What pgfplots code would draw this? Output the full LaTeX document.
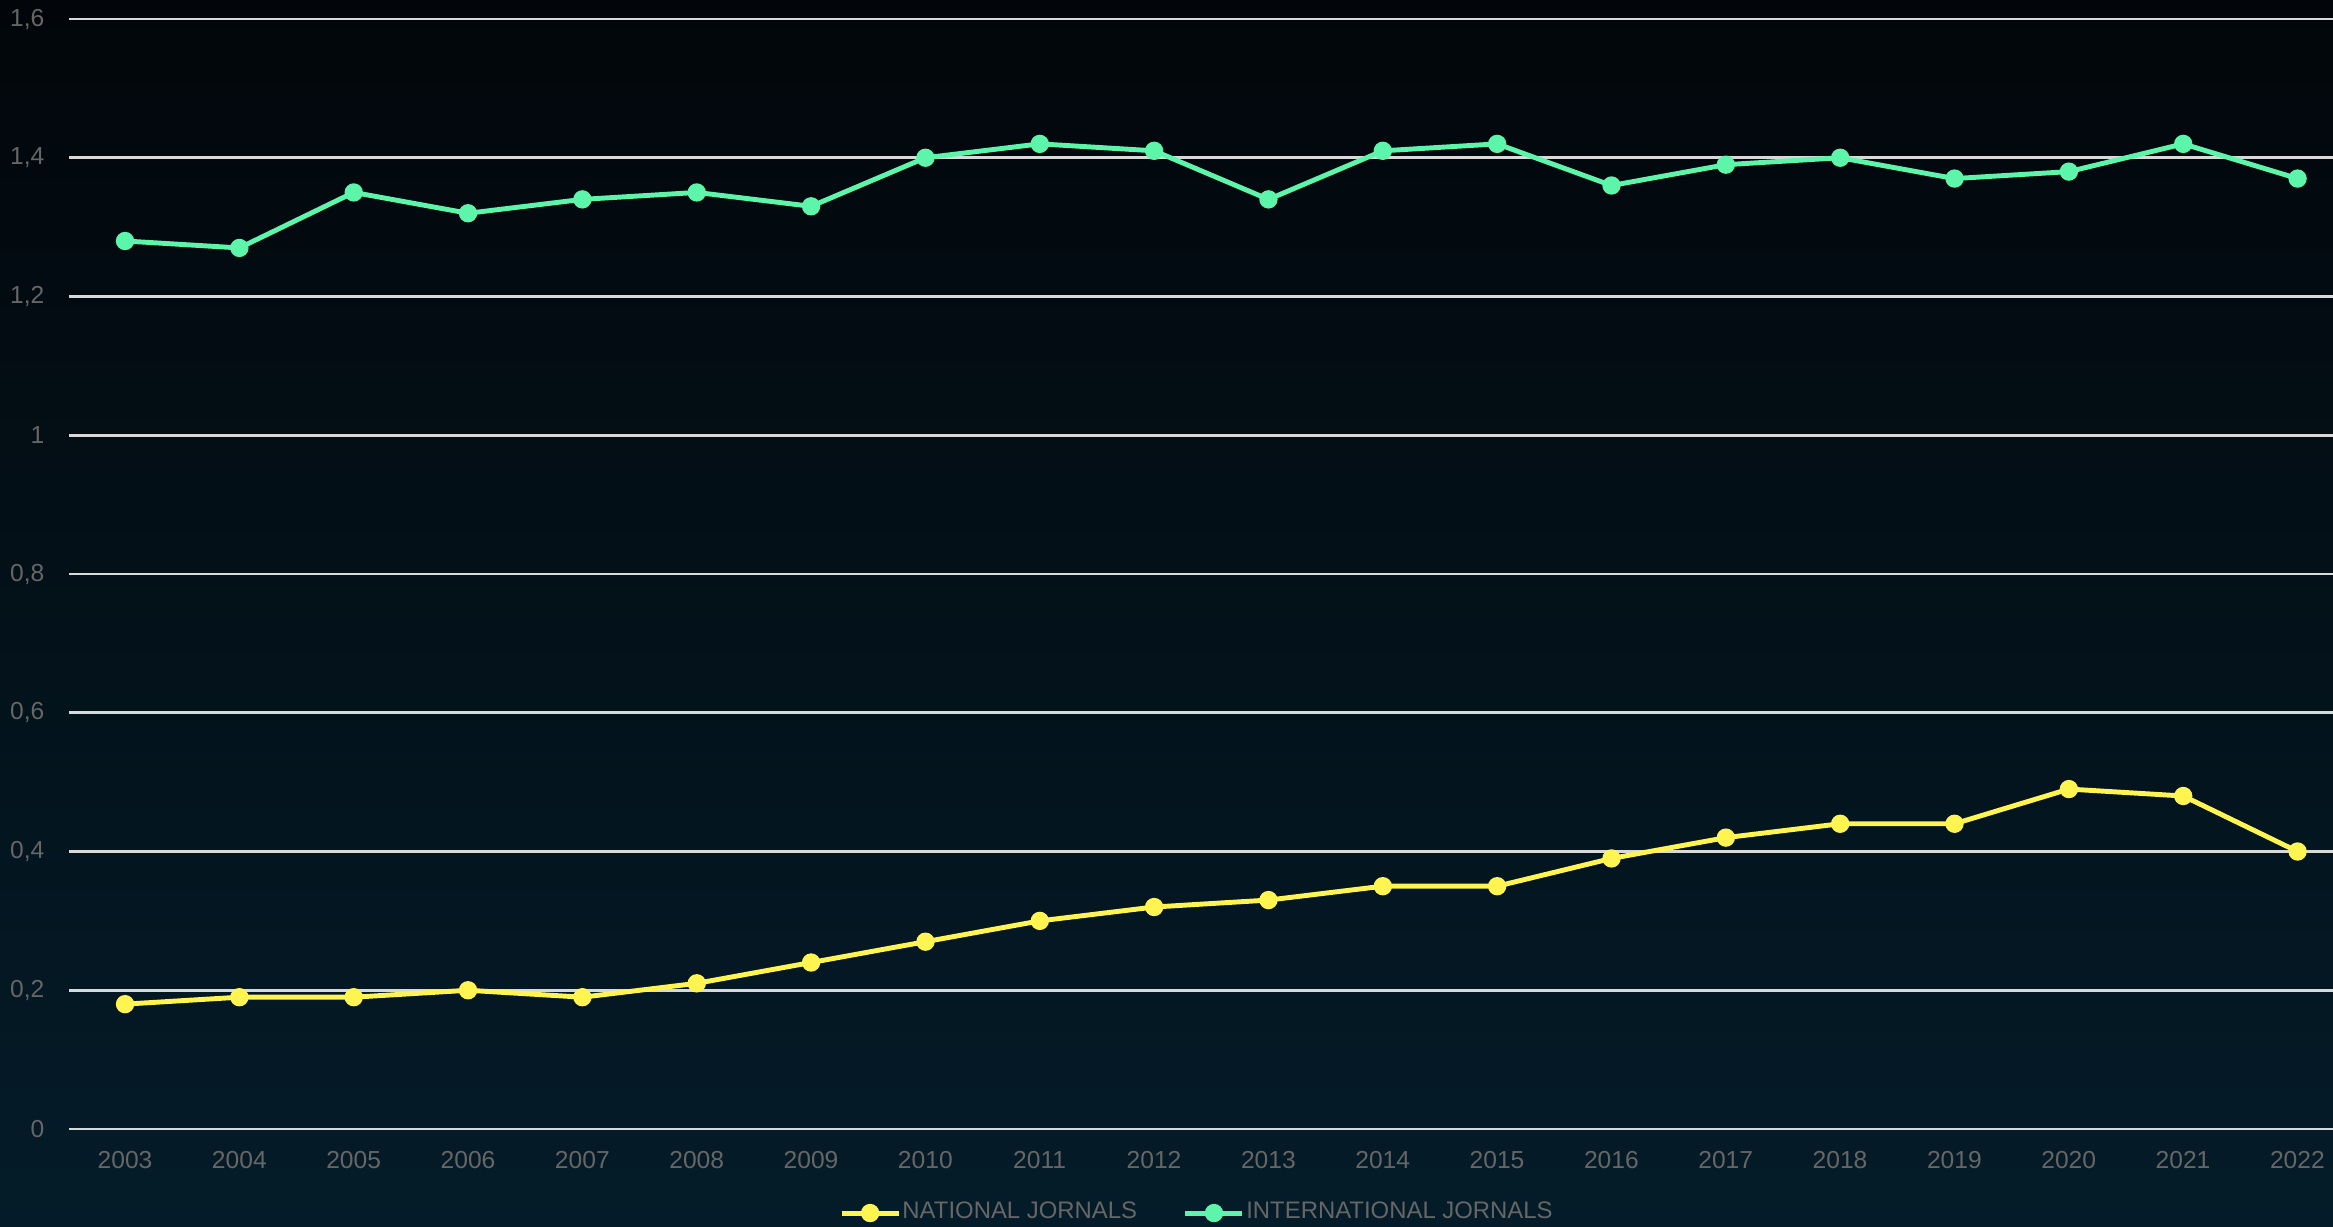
\documentclass[border=0pt]{standalone}
\usepackage{fontspec}
\setmainfont{Liberation Sans}
\usepackage{pgfplots}
\pgfplotsset{compat=1.18}

\definecolor{natl}{HTML}{FFF450}
\definecolor{intl}{HTML}{5CF5AA}
\definecolor{lbl}{HTML}{666666}
\definecolor{bgtop}{HTML}{02060A}
\definecolor{bgbot}{HTML}{041C29}
\definecolor{gridc}{HTML}{D9D9D9}

\begin{document}
\begin{tikzpicture}
  % fixed page, dark gradient background
  \useasboundingbox (0,0) rectangle (23.33cm,12.26cm);
  \shade[top color=bgtop, bottom color=bgbot] (0,0) rectangle (23.33cm,12.26cm);

  \begin{axis}[
    at={(0.69cm,0.97cm)}, anchor=south west,
    scale only axis,
    width=22.64cm, height=11.10cm,
    xmin=2002.51, xmax=2022.31,
    ymin=0, ymax=1.6,
    xtick={2003,2004,...,2022},
    ytick={0,0.2,0.4,0.6,0.8,1,1.2,1.4,1.6},
    axis line style={draw=none},
    major tick length=0pt,
    ymajorgrids,
    major grid style={gridc, line width=0.75pt},
    /pgf/number format/assume math mode=true,
    /pgf/number format/use comma,
    tick label style={font=\fontsize{7}{8}\selectfont, text=lbl, inner sep=0pt},
    x tick label style={/pgf/number format/1000 sep={}, anchor=north, yshift=-2.2mm},
    y tick label style={anchor=east, xshift=-2.4mm},
    legend columns=2,
    legend cell align=left,
    legend style={at={(0.3352,-0.0757)}, anchor=west, draw=none, fill=none,
      font=\fontsize{6.8}{8}\selectfont, text=lbl,
      nodes={inner sep=0.4pt},
      /tikz/every even column/.append style={column sep=4.45mm}},
    legend image code/.code={
      \draw[#1, mark repeat=2, mark phase=2]
        plot coordinates {(0cm,0cm) (0.285cm,0cm) (0.57cm,0cm)};},
  ]

    % NATIONAL JORNALS
    \addplot[natl, line width=1.4pt, mark=*, mark size=1.9pt]
      coordinates {
        (2003,0.18) (2004,0.19) (2005,0.19) (2006,0.20) (2007,0.19)
        (2008,0.21) (2009,0.24) (2010,0.27) (2011,0.30) (2012,0.32)
        (2013,0.33) (2014,0.35) (2015,0.35) (2016,0.39) (2017,0.42)
        (2018,0.44) (2019,0.44) (2020,0.49) (2021,0.48) (2022,0.40)
      };
    \addlegendentry{NATIONAL JORNALS}

    % INTERNATIONAL JORNALS
    \addplot[intl, line width=1.4pt, mark=*, mark size=1.9pt]
      coordinates {
        (2003,1.28) (2004,1.27) (2005,1.35) (2006,1.32) (2007,1.34)
        (2008,1.35) (2009,1.33) (2010,1.40) (2011,1.42) (2012,1.41)
        (2013,1.34) (2014,1.41) (2015,1.42) (2016,1.36) (2017,1.39)
        (2018,1.40) (2019,1.37) (2020,1.38) (2021,1.42) (2022,1.37)
      };
    \addlegendentry{INTERNATIONAL JORNALS}
  \end{axis}
\end{tikzpicture}
\end{document}
